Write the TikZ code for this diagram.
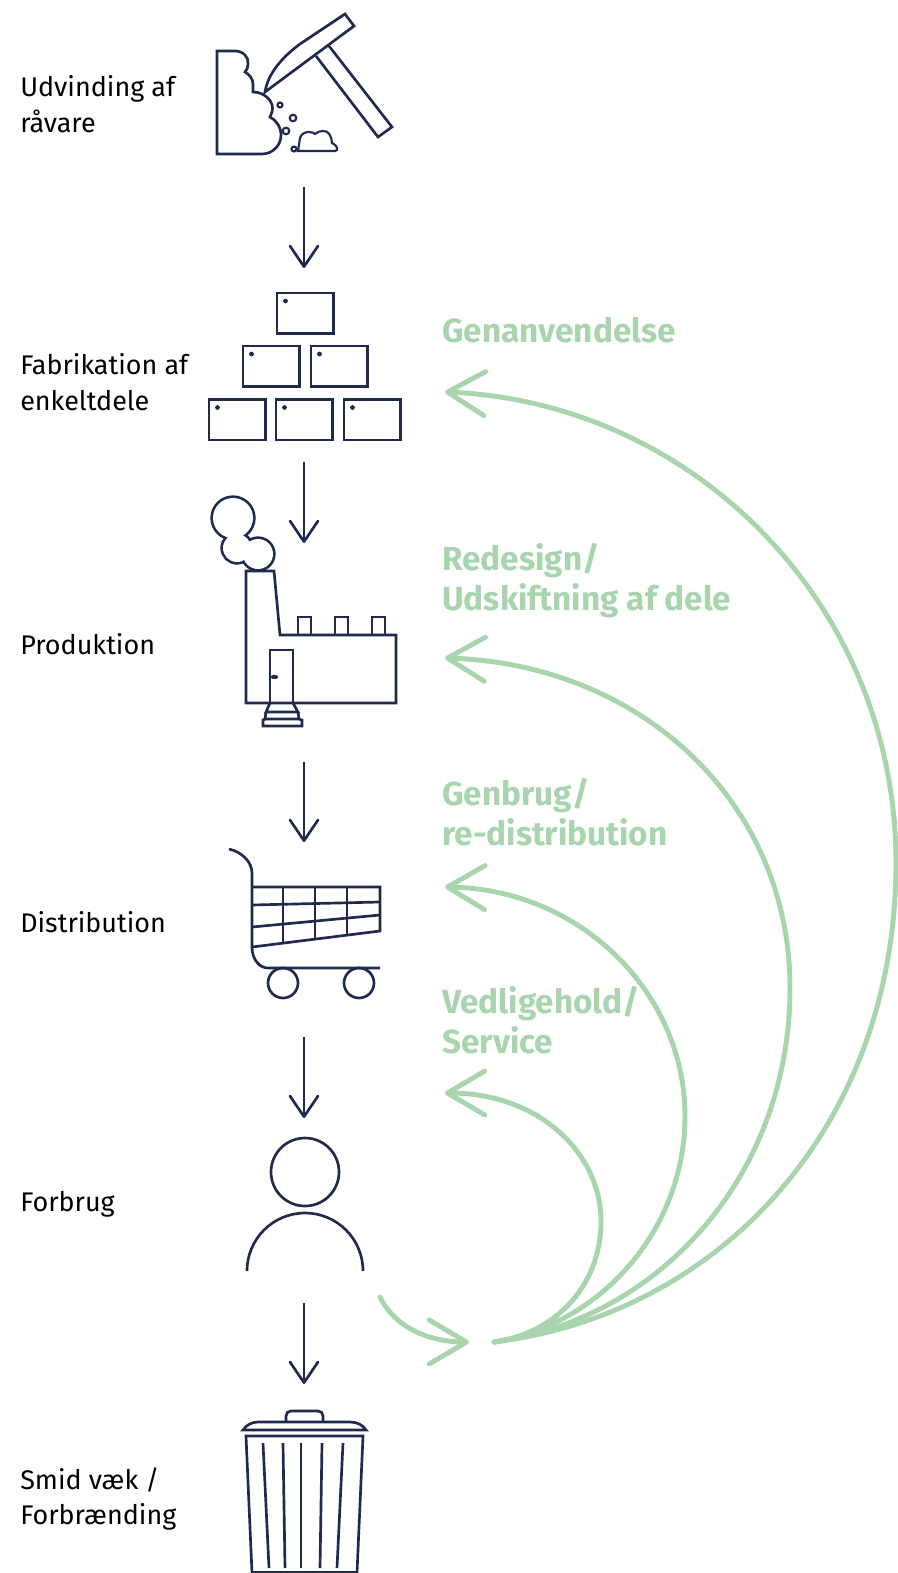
\documentclass[tikz,border=0pt]{standalone}
\usepackage{fontspec}
\setmainfont{Fira Sans}[Ligatures=NoCommon]
\usetikzlibrary{arrows.meta}
\definecolor{navy}{HTML}{1F2A4D}
\definecolor{mint}{HTML}{A8D5AE}
\tikzset{
  icon/.style={draw=navy,line width=2pt,line join=miter},
  flow/.style={draw=navy,line width=2pt,-{Straight Barb[length=15.5pt,width=21pt,line width=2pt,round]}},
  loopback/.style={draw=mint,line width=3.7pt,line cap=round,-{Straight Barb[length=28pt,width=33pt,line width=3.7pt,round]}},
  lbl/.style={anchor=west,align=left,text=black,font=\fontsize{20.2}{26.8}\selectfont,inner sep=0pt},
  glbl/.style={anchor=west,align=left,text=mint,font=\fontsize{25}{30}\selectfont\bfseries,inner sep=0pt}
}
\begin{document}
\begin{tikzpicture}[x=0.75pt,y=-0.75pt]
\useasboundingbox (0,0) rectangle (897,1573);
% labels
\node[lbl] (l1) at (20,104.5) {Udvinding af\\råvare};
\node[lbl] (l2) at (20,382) {Fabrikation af\\enkeltdele};
\node[lbl] (l3) at (20,644) {Produktion};
\node[lbl] (l4) at (20,922) {Distribution};
\node[lbl] (l5) at (20,1204) {Forbrug};
\node[lbl] (l6) at (20,1499) {Smid væk /\\Forbrænding};
\node[glbl] (g1) at (442,330) {Genanvendelse};
\node[glbl] (g2) at (442,581) {Redesign/\\Udskiftning af dele};
\node[glbl] (g3) at (442,812) {Genbrug/\\re-distribution};
\node[glbl] (g4) at (442,1020) {Vedligehold/\\Service};
% flow
\foreach \n/\a/\b in {f1/187/268,f2/462/543,f3/762/842,f4/1037/1118,f5/1303/1384}{
  \coordinate (\n a) at (304,\a);
  \coordinate (\n b) at (304,\b);
  \draw[flow] (\n a) -- (\n b);
}
% extraction icon
\draw[icon] (217,51) -- (235,51) .. controls (243,51) and (249,57) .. (248,64)
  .. controls (248,67) and (247,70) .. (245,72) .. controls (249,74) and (253,79) .. (253,84) -- (253,92)
  .. controls (265,92) and (275,102) .. (272,112) -- (270,117)
  .. controls (276,120) and (281,127) .. (281,135) .. controls (281,146) and (272,154) .. (262,154) -- (217,154) -- cycle;
\draw[icon] (265,92) .. controls (268,72) and (285,55) .. (300,44) -- (345,14) -- (354,26) -- cycle;
\draw[icon] (316,56) -- (378,137) -- (392,127) -- (329,46);
\draw[icon,line width=1.6pt] (280,105) circle[radius=2.5] (293,118) circle[radius=3.3] (286,131) circle[radius=3.3] (294,149) circle[radius=2.5];
\draw[icon,line width=1.6pt] (298,151) -- (300,138) .. controls (301,134) and (305,132) .. (309,132) .. controls (312,132) and (314,133) .. (315,134)
  .. controls (317,132) and (320,131) .. (323,131) .. controls (328,131) and (331,134) .. (332,143)
  .. controls (335,144) and (338,148) .. (337,150) -- (335,151) -- cycle;
% blocks
\foreach \x/\y in {277/293,243/346,311/346,209/399.5,276/399.5,344/399.5}{
  \draw[icon] (\x,\y) rectangle ++(56.5,40.5);
  \fill[navy] (\x+8.5,\y+8) circle[radius=2.4];
}
% factory
\draw[navy,line width=4pt] (233,518) circle[radius=20] (237,548) circle[radius=14] (258,554) circle[radius=15];
\fill[white] (233,518) circle[radius=20] (237,548) circle[radius=14] (258,554) circle[radius=15];
\draw[icon] (246,571) -- (274,571) -- (280,635) -- (396,635) -- (396,703) -- (246,703) -- cycle;
\draw[icon] (298,635) |- (311,617) -- (311,635);
\draw[icon] (335,635) |- (348,617) -- (348,635);
\draw[icon] (372,635) |- (385,617) -- (385,635);
\draw[icon] (270,703) |- (293,650) -- (293,703);
\draw[navy,line width=3pt,line cap=round] (273,677) -- (276,677);
\draw[icon] (270,703) -- (266,712) -- (298,712) -- (293,703);
\draw[icon] (266,712) -- (265,719) -- (299,719) -- (298,712);
\draw[icon] (265,719) -- (263,720) -- (263,726) -- (302,726) -- (302,720) -- (299,719);
% cart
\draw[icon] (229,849) .. controls (242,852) and (252,862) .. (252,873) -- (252,947) .. controls (252,960) and (260,968) .. (268,968) -- (380,968);
\draw[icon] (252,887) -- (380,887) -- (380,931) -- (252,947);
\draw[icon] (252,905) -- (380,902);
\draw[icon] (252,927) -- (380,915);
\draw[icon] (283,887) -- (283,943);
\draw[icon] (315,887) -- (315,939);
\draw[icon] (347,887) -- (347,935);
\draw[icon] (283,983) circle[radius=15];
\draw[icon] (359,983) circle[radius=15];
% person
\draw[icon] (305,1172) circle[radius=34];
\draw[icon] (247,1271) .. controls (247,1239) and (273,1213) .. (305,1213) .. controls (337,1213) and (363,1239) .. (363,1271);
% bin
\draw[icon] (286,1422) -- (286,1416) .. controls (286,1413) and (288,1411) .. (291,1411) -- (318,1411) .. controls (321,1411) and (323,1413) .. (323,1416) -- (323,1422);
\draw[icon] (243,1430) .. controls (246,1425) and (252,1422) .. (258,1422) -- (350,1422) .. controls (357,1422) and (363,1425) .. (366,1430) -- cycle;
\draw[icon] (252,1573) -- (246,1436) -- (363,1436) -- (357,1573);
\draw[icon] (252,1572) -- (357,1572);
\draw[icon] (263,1443) -- (269,1568);
\draw[icon] (283,1443) -- (285,1568);
\draw[icon] (301,1443) -- (301,1568);
\draw[icon] (322,1443) -- (320,1568);
\draw[icon] (343,1443) -- (337,1568);
% green loops
\coordinate (src) at (494,1342);
\coordinate (t1) at (445,392);
\coordinate (t2) at (445,658);
\coordinate (t3) at (445,887);
\coordinate (t4) at (445,1093);
\coordinate (out) at (380,1297);
\coordinate (in) at (469,1342);
\draw[loopback] (out) .. controls (394,1326) and (427,1342) .. (in);
\draw[loopback] (src) .. controls (722,1314) and (896,1124) .. (896,863) .. controls (896,603) and (692,402) .. (t1);
\draw[loopback] (src) .. controls (662,1319) and (790,1173) .. (790,988) .. controls (790,803) and (642,664) .. (t2);
\draw[loopback] (src) .. controls (602,1324) and (685,1229) .. (685,1116) .. controls (685,994) and (582,889) .. (t3);
\draw[loopback] (src) .. controls (552,1334) and (601,1289) .. (601,1221) .. controls (601,1154) and (540,1093) .. (t4);
\end{tikzpicture}
\end{document}
